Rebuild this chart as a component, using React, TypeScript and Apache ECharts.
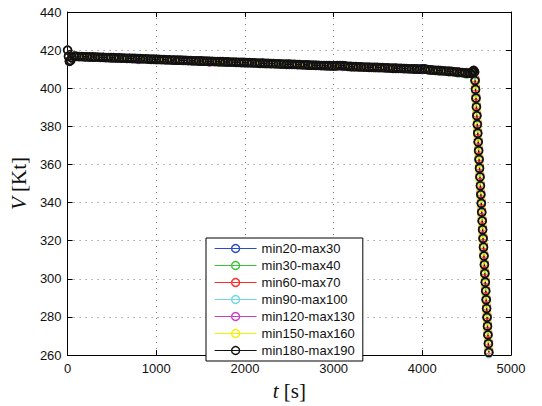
import React, { useEffect, useRef } from "react";
import * as echarts from "echarts";

// ---- data ----
const X_TICKS = [0, 1000, 2000, 3000, 4000, 5000];
const Y_TICKS = [260, 280, 300, 320, 340, 360, 380, 400, 420, 440];

const T_START = [0, 10, 20, 35, 50, 75];
const T_FINE = [
  100, 130, 160, 190, 220, 250, 280, 310, 340, 370,
  400, 430, 460, 490, 520, 550, 580, 610, 640, 670,
  700, 730, 760, 790, 820, 850, 880, 910, 940, 970,
  1000, 1030, 1060, 1090, 1120, 1150, 1180, 1210, 1240, 1270,
  1300, 1330, 1360, 1390, 1420, 1450, 1480, 1510, 1540, 1570,
  1600, 1630, 1660, 1690, 1720, 1750, 1780, 1810, 1840, 1870,
  1900, 1930, 1960, 1990, 2020, 2050, 2080, 2110, 2140, 2170,
  2200, 2230, 2260, 2290, 2320, 2350, 2380, 2410, 2440, 2470,
  2500, 2530, 2560, 2590, 2620, 2650, 2680, 2710, 2740, 2770,
  2800, 2830, 2860, 2890, 2920, 2950, 2980, 3010, 3040, 3070,
  3100, 3130, 3160, 3190, 3220, 3250, 3280, 3310, 3340, 3370,
  3400, 3430, 3460, 3490, 3520, 3550, 3580, 3610, 3640, 3670,
  3700, 3730, 3760, 3790, 3820, 3850, 3880, 3910, 3940, 3970,
  4000, 4030, 4060, 4090, 4120, 4150, 4180, 4210, 4240, 4270,
  4300, 4330, 4360, 4390, 4420, 4450, 4480, 4510, 4540,
];
const T_COARSE = [
  100, 200, 300, 400, 500, 600, 700, 800, 900, 1000,
  1100, 1200, 1300, 1400, 1500, 1600, 1700, 1800, 1900, 2000,
  2100, 2200, 2300, 2400, 2500, 2600, 2700, 2800, 2900, 3000,
  3100, 3200, 3300, 3400, 3500, 3600, 3700, 3800, 3900, 4000,
  4100, 4200, 4300, 4400, 4500,
];
const T_BUMP = [4560, 4570, 4580, 4590];
const T_DROP = [
  4595, 4600, 4605, 4610, 4615, 4620, 4625, 4630, 4635, 4640,
  4645, 4650, 4655, 4660, 4665, 4670, 4675, 4680, 4685, 4690,
  4695, 4700, 4705, 4710, 4715, 4720, 4725, 4730, 4735, 4740,
  4745, 4750,
];

// min180-max190 (black, drawn on top)
const BLACK_START = [420.0, 416.8, 414.2, 414.6, 415.9, 416.8];
const BLACK_FINE = [
  416.7, 416.6, 416.6, 416.5, 416.5, 416.4, 416.4, 416.3, 416.3, 416.2,
  416.2, 416.1, 416.1, 416.0, 416.0, 415.9, 415.9, 415.8, 415.8, 415.7,
  415.7, 415.6, 415.6, 415.5, 415.5, 415.4, 415.4, 415.3, 415.2, 415.2,
  415.1, 415.1, 415.0, 415.0, 414.9, 414.9, 414.8, 414.8, 414.7, 414.7,
  414.6, 414.6, 414.5, 414.5, 414.4, 414.4, 414.3, 414.3, 414.2, 414.2,
  414.1, 414.1, 414.0, 414.0, 413.9, 413.9, 413.8, 413.8, 413.7, 413.7,
  413.6, 413.6, 413.5, 413.5, 413.4, 413.4, 413.3, 413.3, 413.2, 413.1,
  413.1, 413.0, 413.0, 412.9, 412.9, 412.8, 412.8, 412.7, 412.7, 412.6,
  412.6, 412.5, 412.5, 412.4, 412.4, 412.3, 412.3, 412.2, 412.1, 412.1,
  412.0, 412.0, 411.9, 411.9, 411.8, 411.8, 411.7, 411.7, 411.8, 411.9,
  411.9, 411.7, 411.5, 411.4, 411.3, 411.3, 411.2, 411.2, 411.1, 411.1,
  411.0, 411.0, 410.9, 410.9, 410.8, 410.8, 410.7, 410.7, 410.6, 410.5,
  410.5, 410.4, 410.4, 410.3, 410.3, 410.2, 410.2, 410.1, 410.1, 410.0,
  410.2, 410.1, 409.8, 409.6, 409.5, 409.4, 409.3, 409.2, 409.1, 409.0,
  408.9, 408.8, 408.6, 408.5, 408.3, 408.2, 408.0, 407.9, 407.9,
];
const BLACK_BUMP = [408.4, 409.0, 409.3, 408.5];
const BLACK_DROP = [
  404.0, 399.4, 394.8, 390.2, 385.6, 381.0, 376.4, 371.8, 367.2, 362.6,
  358.0, 353.4, 348.8, 344.2, 339.6, 335.0, 330.4, 325.8, 321.2, 316.6,
  312.0, 307.4, 302.8, 298.2, 293.6, 289.0, 284.4, 279.8, 275.2, 270.6,
  266.0, 261.4,
];

// min20-max30 (blue)
const BLUE_START = [420.0, 416.5, 414.0, 414.8, 416.0, 416.7];
const BLUE_COARSE = [
  416.8, 416.5, 416.3, 416.2, 416.1, 415.9, 415.7, 415.6, 415.4, 415.2,
  414.9, 414.8, 414.6, 414.5, 414.3, 414.1, 414.0, 413.8, 413.6, 413.5,
  413.3, 413.1, 413.0, 412.8, 412.6, 412.5, 412.3, 412.1, 411.9, 411.8,
  411.8, 411.4, 411.2, 411.0, 410.9, 410.7, 410.5, 410.4, 410.2, 410.1,
  409.7, 409.3, 408.9, 408.4, 407.9,
];
const BLUE_BUMP = [408.3, 408.9, 409.2, 408.6];
const BLUE_DROP = BLACK_DROP;

// min30-max40 (green)
const GREEN_START = [420.0, 416.6, 414.3, 414.7, 415.8, 416.8];
const GREEN_COARSE = [
  416.7, 416.5, 416.4, 416.2, 416.0, 415.9, 415.7, 415.5, 415.4, 415.1,
  415.0, 414.8, 414.6, 414.4, 414.3, 414.1, 413.9, 413.8, 413.6, 413.4,
  413.3, 413.1, 412.9, 412.8, 412.6, 412.4, 412.3, 412.0, 411.9, 411.7,
  411.8, 411.3, 411.2, 411.0, 410.8, 410.7, 410.5, 410.3, 410.2, 410.0,
  409.5, 409.1, 408.5, 407.9, 407.3,
];
const GREEN_BUMP = [408.0, 408.8, 409.2, 408.4];
const GREEN_DROP = BLACK_DROP;

// min60-max70 (red)
const RED_START = [420.0, 416.9, 414.4, 414.5, 415.9, 416.9];
const RED_COARSE = [
  416.7, 416.6, 416.4, 416.3, 416.0, 415.9, 415.8, 415.5, 415.4, 415.1,
  415.0, 414.8, 414.7, 414.4, 414.3, 414.2, 413.9, 413.8, 413.7, 413.4,
  413.3, 413.2, 412.9, 412.8, 412.7, 412.4, 412.3, 412.1, 411.9, 411.8,
  411.9, 411.4, 411.2, 411.1, 410.9, 410.7, 410.6, 410.4, 410.2, 410.3,
  409.7, 409.4, 409.1, 408.8, 408.4,
];
const RED_BUMP = [408.7, 409.2, 409.4, 408.8];
const RED_DROP = [
  405.2, 400.6, 396.0, 391.4, 386.8, 382.2, 377.6, 373.0, 368.4, 363.8,
  359.2, 354.6, 350.0, 345.4, 340.8, 336.2, 331.6, 327.0, 322.4, 317.8,
  313.2, 308.6, 304.0, 299.4, 294.8, 290.2, 285.6, 281.0, 276.4, 271.8,
  267.2, 262.6,
];

// min90-max100 (cyan)
const CYAN_START = [420.0, 416.7, 414.1, 414.6, 416.0, 416.8];
const CYAN_COARSE = [
  416.7, 416.5, 416.4, 416.2, 416.0, 415.9, 415.7, 415.6, 415.4, 415.1,
  415.0, 414.8, 414.6, 414.5, 414.3, 414.1, 414.0, 413.8, 413.6, 413.5,
  413.3, 413.1, 413.0, 412.8, 412.6, 412.5, 412.3, 412.0, 411.9, 411.8,
  411.9, 411.4, 411.2, 411.0, 410.9, 410.7, 410.5, 410.4, 410.2, 410.2,
  409.6, 409.3, 408.9, 408.5, 408.0,
];
const CYAN_BUMP = [408.4, 409.0, 409.3, 408.4];
const CYAN_DROP = [
  403.2, 398.6, 394.0, 389.4, 384.8, 380.2, 375.6, 371.0, 366.4, 361.8,
  357.2, 352.6, 348.0, 343.4, 338.8, 334.2, 329.6, 325.0, 320.4, 315.8,
  311.2, 306.6, 302.0, 297.4, 292.8, 288.2, 283.6, 279.0, 274.4, 269.8,
  265.2, 260.6,
];

// min120-max130 (magenta)
const MAGENTA_START = [420.0, 416.4, 413.9, 414.4, 415.8, 416.6];
const MAGENTA_COARSE = [
  416.7, 416.5, 416.4, 416.2, 416.0, 415.9, 415.7, 415.0, 415.4, 415.1,
  414.9, 414.8, 414.6, 414.4, 414.3, 413.6, 413.9, 413.8, 413.6, 413.4,
  413.3, 413.1, 412.9, 412.8, 412.6, 412.4, 412.3, 412.0, 411.9, 411.7,
  411.3, 411.3, 411.2, 411.0, 410.8, 410.7, 410.5, 410.3, 410.2, 409.6,
  409.6, 409.3, 408.9, 408.5, 408.0,
];
const MAGENTA_BUMP = [408.3, 409.0, 409.3, 408.5];
const MAGENTA_DROP = BLACK_DROP;

// min150-max160 (yellow)
const YELLOW_START = [420.0, 416.6, 414.2, 414.7, 415.9, 416.7];
const YELLOW_COARSE = [
  416.7, 416.5, 416.4, 416.2, 416.0, 415.9, 415.7, 415.5, 415.4, 415.1,
  414.9, 414.8, 414.6, 414.4, 414.3, 414.1, 413.9, 413.8, 413.6, 413.4,
  413.3, 413.1, 412.9, 412.8, 412.6, 412.4, 412.3, 412.0, 411.9, 411.7,
  411.9, 411.3, 411.2, 411.0, 410.8, 410.7, 410.5, 410.3, 410.2, 410.1,
  409.5, 409.2, 408.7, 408.3, 407.8,
];
const YELLOW_BUMP = [408.2, 408.9, 409.2, 408.2];
const YELLOW_DROP = [
  402.4, 397.8, 393.2, 388.6, 384.0, 379.4, 374.8, 370.2, 365.6, 361.0,
  356.4, 351.8, 347.2, 342.6, 338.0, 333.4, 328.8, 324.2, 319.6, 315.0,
  310.4, 305.8, 301.2, 296.6, 292.0, 287.4, 282.8, 278.2, 273.6, 269.0,
  264.4, 259.8,
];

const SERIES_NAMES = [
  "min20-max30",
  "min30-max40",
  "min60-max70",
  "min90-max100",
  "min120-max130",
  "min150-max160",
  "min180-max190",
];
const SERIES_COLORS = ["#2a4cc8", "#3ec43a", "#ff2a2a", "#6fd6e6", "#c83cc8", "#f2f200", "#111111"];

function zip(ts: number[], vs: number[]) {
  return ts.map((t, i) => [t, vs[i]]);
}

const COARSE_T = [...T_START, ...T_COARSE, ...T_BUMP, ...T_DROP];
const FINE_T = [...T_START, ...T_FINE, ...T_BUMP, ...T_DROP];

const SERIES_DATA = [
  zip(COARSE_T, [...BLUE_START, ...BLUE_COARSE, ...BLUE_BUMP, ...BLUE_DROP]),
  zip(COARSE_T, [...GREEN_START, ...GREEN_COARSE, ...GREEN_BUMP, ...GREEN_DROP]),
  zip(COARSE_T, [...RED_START, ...RED_COARSE, ...RED_BUMP, ...RED_DROP]),
  zip(COARSE_T, [...CYAN_START, ...CYAN_COARSE, ...CYAN_BUMP, ...CYAN_DROP]),
  zip(COARSE_T, [...MAGENTA_START, ...MAGENTA_COARSE, ...MAGENTA_BUMP, ...MAGENTA_DROP]),
  zip(COARSE_T, [...YELLOW_START, ...YELLOW_COARSE, ...YELLOW_BUMP, ...YELLOW_DROP]),
  zip(FINE_T, [...BLACK_START, ...BLACK_FINE, ...BLACK_BUMP, ...BLACK_DROP]),
];

const SANS = "'Liberation Sans', Arial, sans-serif";
const SERIF = "'Liberation Serif', 'Times New Roman', serif";

export default function App() {
  const ref = useRef<HTMLDivElement>(null);

  useEffect(() => {
    if (!ref.current) return;
    const chart = echarts.init(ref.current, undefined, { renderer: "svg" });

    const xMin = X_TICKS[0];
    const xMax = X_TICKS[X_TICKS.length - 1];
    const xStep = X_TICKS[1] - X_TICKS[0];
    const yMin = Y_TICKS[0];
    const yMax = Y_TICKS[Y_TICKS.length - 1];
    const yStep = Y_TICKS[1] - Y_TICKS[0];

    const tick = { show: true, inside: true, length: 5, lineStyle: { color: "#000", width: 1 } };
    const axisLine = { show: true, onZero: false, lineStyle: { color: "#000", width: 1 } };
    const split = { show: true, lineStyle: { color: "#777", width: 1, type: [1, 5] as any } };
    const label = { color: "#111", fontSize: 13, fontFamily: SANS, formatter: (v: number) => String(v) };
    const last = SERIES_NAMES.length - 1;

    chart.setOption({
      animation: false,
      backgroundColor: "#fff",
      grid: { left: 61, right: 31, top: 12, bottom: 40, containLabel: false },
      legend: {
        orient: "vertical",
        left: 206,
        top: 238,
        data: SERIES_NAMES,
        itemWidth: 42,
        itemHeight: 10,
        itemGap: 4,
        padding: [4, 8, 4, 8],
        backgroundColor: "#fff",
        borderColor: "#000",
        borderWidth: 1,
        borderRadius: 0,
        selectedMode: false,
        lineStyle: { width: 1.2 },
        itemStyle: { borderWidth: 1.4 },
        textStyle: { color: "#111", fontSize: 13, fontFamily: SANS, lineHeight: 13 },
      },
      xAxis: [
        {
          type: "value",
          min: xMin,
          max: xMax,
          interval: xStep,
          position: "bottom",
          axisLine,
          axisTick: tick,
          axisLabel: { ...label, margin: 7 },
          splitLine: split,
          name: "{i|t} [s]",
          nameLocation: "middle",
          nameGap: 17,
          nameTextStyle: {
            fontFamily: SERIF,
            fontSize: 21,
            color: "#111",
            rich: { i: { fontFamily: SERIF, fontSize: 21, fontStyle: "italic", color: "#111" } },
          },
        },
        {
          type: "value",
          min: xMin,
          max: xMax,
          interval: xStep,
          position: "top",
          axisLine,
          axisTick: tick,
          axisLabel: { show: false },
          splitLine: { show: false },
        },
      ],
      yAxis: [
        {
          type: "value",
          min: yMin,
          max: yMax,
          interval: yStep,
          position: "left",
          axisLine,
          axisTick: tick,
          axisLabel: { ...label, margin: 6 },
          splitLine: split,
          name: "{i|V} [Kt]",
          nameLocation: "middle",
          nameGap: 36,
          nameTextStyle: {
            fontFamily: SERIF,
            fontSize: 21,
            color: "#111",
            rich: { i: { fontFamily: SERIF, fontSize: 21, fontStyle: "italic", color: "#111" } },
          },
        },
        {
          type: "value",
          min: yMin,
          max: yMax,
          interval: yStep,
          position: "right",
          axisLine,
          axisTick: tick,
          axisLabel: { show: false },
          splitLine: { show: false },
        },
      ],
      series: SERIES_NAMES.map((name, i) => ({
        name,
        type: "line",
        xAxisIndex: 0,
        yAxisIndex: 0,
        data: SERIES_DATA[i],
        symbol: "circle",
        symbolSize: 8,
        showSymbol: true,
        clip: true,
        silent: true,
        color: SERIES_COLORS[i],
        lineStyle: { color: SERIES_COLORS[i], width: i === last ? 1.4 : 0.8 },
        itemStyle: {
          color: "rgba(255,255,255,0)",
          borderColor: SERIES_COLORS[i],
          borderWidth: i === last ? 1.7 : 1,
        },
        emphasis: { disabled: true },
      })),
    });

    return () => chart.dispose();
  }, []);

  return (
    <div
      ref={ref}
      style={{ position: "fixed", left: 0, top: 0, width: 542, height: 406, background: "#fff" }}
    />
  );
}
